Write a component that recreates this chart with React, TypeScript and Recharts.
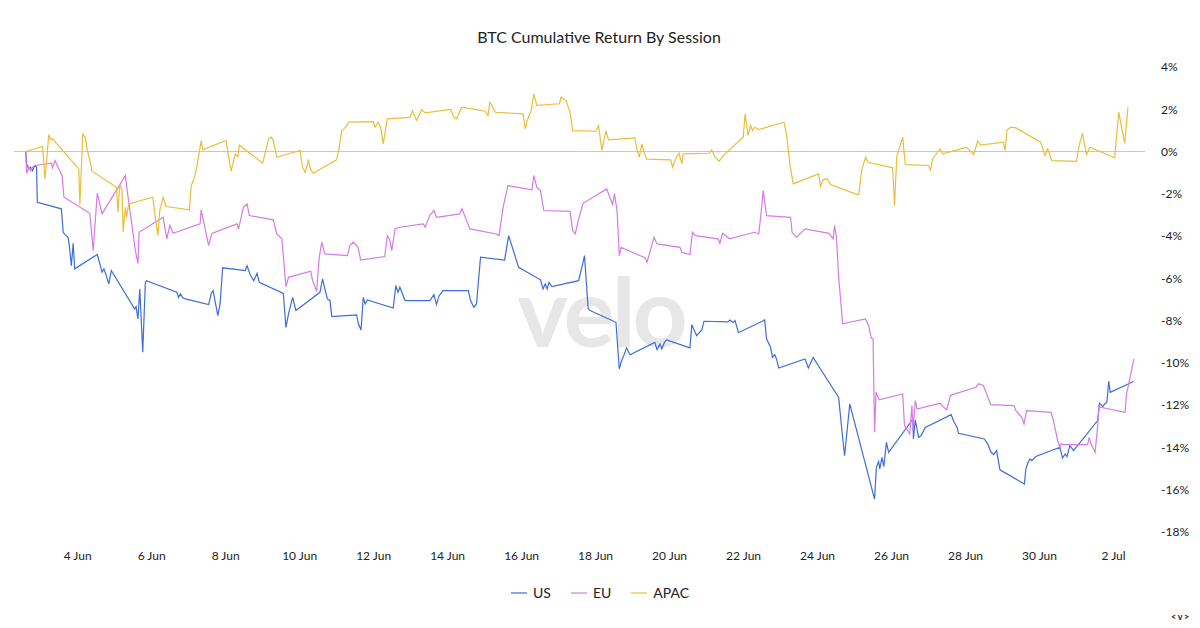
import React from 'react';
import { LineChart, Line, XAxis, YAxis, ReferenceLine } from 'recharts';

// [day of June (fractional, 32 = 2 Jul), cumulative return %]
type Pt = [number, number];

const usReturns: Pt[] = [
  [2.6, 0], [2.62, -0.58], [2.68, -0.82], [2.73, -0.74], [2.78, -0.9], [2.84, -0.66], [2.89, -0.74], [2.91, -2.4],
  [3.56, -2.71], [3.61, -3.82], [3.66, -3.93], [3.74, -4.06], [3.77, -4.37], [3.83, -5.4], [3.88, -4.34], [3.92, -5.55],
  [4.53, -4.87], [4.6, -5.31], [4.66, -5.71], [4.71, -5.55], [4.76, -5.79], [4.84, -6.26], [4.91, -5.63],
  [5.54, -7.44], [5.58, -7.34], [5.63, -7.92], [5.68, -6.5], [5.76, -9.5], [5.83, -6.19], [5.86, -6.11],
  [6.68, -6.66], [6.73, -6.9], [6.78, -6.73], [6.84, -6.92], [6.91, -6.97],
  [7.54, -7.24], [7.61, -6.73], [7.66, -6.58], [7.79, -7.76], [7.85, -7.21], [7.92, -5.5],
  [8.53, -5.63], [8.58, -5.4], [8.66, -5.82], [8.76, -6.11], [8.85, -5.76], [8.91, -6.19],
  [9.56, -6.71], [9.63, -8.32], [9.7, -7.68], [9.81, -6.9], [9.9, -7.52],
  [10.55, -6.66], [10.62, -6.02], [10.69, -6.55], [10.75, -6.97], [10.82, -7.05], [10.87, -7.81],
  [11.54, -7.73], [11.59, -8.15], [11.66, -8.44], [11.72, -6.9], [11.77, -7.21], [11.83, -7.02],
  [12.53, -7.4], [12.6, -6.34], [12.66, -6.66], [12.71, -6.42], [12.85, -7.05],
  [13.52, -7.05], [13.63, -6.77], [13.7, -7.24], [13.77, -6.82], [13.88, -6.58],
  [14.56, -6.58], [14.62, -7.05], [14.71, -7.37], [14.78, -7.21], [14.89, -5.0],
  [15.54, -5.13], [15.65, -3.98], [15.92, -5.48],
  [16.51, -6.07], [16.58, -6.5], [16.64, -6.26], [16.69, -6.5], [16.74, -6.19], [16.82, -6.39],
  [17.54, -6.11], [17.65, -5.31], [17.7, -4.92], [17.8, -7.44], [17.85, -7.52],
  [18.55, -8.08], [18.64, -10.28], [18.69, -9.97], [18.84, -9.29], [18.93, -9.61],
  [19.6, -9.03], [19.66, -9.37], [19.74, -9.1], [19.79, -9.34], [19.86, -9.03], [19.92, -8.91],
  [20.55, -9.29], [20.6, -8.19], [20.73, -8.71], [20.87, -8.44], [20.93, -8.03],
  [21.58, -8.06], [21.63, -7.97], [21.72, -8.09], [21.77, -8.0], [21.86, -8.57],
  [22.57, -7.97], [22.62, -8.86], [22.73, -9.26], [22.78, -9.74], [22.84, -9.61], [22.89, -9.81], [22.95, -10.24],
  [23.66, -9.81], [23.75, -10.24], [23.88, -9.74],
  [24.57, -11.63], [24.64, -12.89], [24.73, -14.39], [24.87, -11.94],
  [25.54, -16.44], [25.59, -14.94], [25.65, -14.67], [25.68, -15.02], [25.74, -14.47], [25.79, -14.91], [25.86, -13.76], [25.92, -14.23],
  [26.58, -12.65], [26.59, -13.6], [26.64, -12.7], [26.73, -13.52], [26.8, -13.44], [26.91, -13.05],
  [27.61, -12.45], [27.68, -12.76], [27.77, -13.05], [27.81, -13.33],
  [28.51, -13.6], [28.6, -13.84], [28.69, -14.23], [28.76, -14.34], [28.84, -14.15], [28.87, -14.47], [28.93, -15.06],
  [29.59, -15.73], [29.63, -15.02], [29.68, -14.75], [29.74, -14.54], [29.79, -14.62], [29.9, -14.43],
  [30.55, -13.99], [30.62, -14.5], [30.69, -14.31], [30.74, -14.43], [30.82, -13.91], [30.92, -14.15],
  [31.57, -12.73], [31.62, -11.91], [31.71, -12.07], [31.76, -11.94], [31.82, -11.86], [31.87, -10.87], [31.91, -11.39],
  [32.54, -10.88],
];

const euReturns: Pt[] = [
  [2.6, 0], [2.62, -1.03], [2.68, -0.74], [2.73, -0.9], [2.78, -0.74], [2.84, -0.66],
  [3.29, -0.55], [3.32, -0.77], [3.39, -0.43], [3.47, -0.74], [3.58, -1.14], [3.63, -2.16],
  [4.33, -2.92], [4.42, -4.69], [4.53, -1.97], [4.6, -2.48], [4.66, -2.95],
  [5.29, -1.14], [5.34, -1.85], [5.5, -3.9], [5.56, -4.69], [5.63, -5.29], [5.66, -3.82],
  [6.31, -3.11], [6.41, -4.13], [6.49, -3.5], [6.58, -3.87],
  [7.31, -3.42], [7.34, -2.76], [7.54, -4.45], [7.63, -3.87],
  [8.31, -3.42], [8.35, -3.66], [8.41, -3.19], [8.48, -2.64], [8.58, -2.48], [8.64, -3.03],
  [9.29, -3.23], [9.38, -3.9], [9.52, -4.13], [9.63, -6.39], [9.7, -5.95],
  [10.3, -5.66], [10.35, -6.1], [10.46, -6.61], [10.53, -5.0], [10.6, -4.29], [10.68, -4.84],
  [11.29, -4.92], [11.36, -4.45], [11.45, -4.29], [11.58, -4.53], [11.65, -5.13],
  [12.3, -4.97], [12.37, -3.98], [12.44, -4.21], [12.49, -4.69], [12.58, -3.66], [12.71, -3.58],
  [13.34, -3.42], [13.39, -3.58], [13.52, -3.03], [13.63, -2.79], [13.7, -3.11],
  [14.33, -2.95], [14.39, -2.71], [14.6, -3.66],
  [15.32, -3.9], [15.39, -3.98], [15.5, -2.64], [15.63, -1.61],
  [16.28, -1.81], [16.33, -1.14], [16.41, -1.69], [16.51, -1.85], [16.6, -2.79],
  [17.31, -2.83], [17.38, -3.74], [17.45, -3.9], [17.52, -3.35], [17.66, -2.45],
  [18.3, -1.77], [18.46, -2.51], [18.51, -2.0], [18.58, -2.79], [18.64, -4.92], [18.69, -4.53],
  [19.34, -5.03], [19.39, -5.24], [19.58, -4.06], [19.66, -4.37],
  [20.28, -4.53], [20.33, -4.77], [20.55, -4.87], [20.62, -3.82], [20.69, -3.98],
  [21.31, -4.13], [21.36, -4.34], [21.43, -3.87], [21.62, -4.13],
  [22.3, -3.82], [22.41, -3.9], [22.48, -2.79], [22.53, -1.85], [22.62, -3.03],
  [23.27, -3.11], [23.31, -3.82], [23.43, -4.06], [23.66, -3.66],
  [24.31, -3.87], [24.42, -4.13], [24.46, -3.5], [24.51, -4.06], [24.57, -5.95], [24.68, -8.15],
  [25.29, -7.92], [25.38, -8.23], [25.45, -8.82], [25.5, -8.86], [25.54, -13.28], [25.58, -11.39], [25.66, -11.75],
  [26.3, -11.47], [26.35, -12.97], [26.49, -13.36], [26.55, -12.02], [26.58, -13.2], [26.64, -11.78], [26.69, -12.18],
  [27.31, -11.91], [27.41, -12.1], [27.49, -12.22], [27.59, -11.55], [27.65, -11.5],
  [28.28, -11.15], [28.35, -10.99], [28.48, -11.07], [28.57, -11.47], [28.68, -11.97],
  [29.31, -12.02], [29.36, -12.26], [29.52, -12.57], [29.58, -12.89], [29.65, -12.26],
  [30.31, -12.34], [30.37, -12.7], [30.49, -13.68], [30.55, -13.99], [30.58, -13.83], [30.65, -13.87],
  [31.3, -13.87], [31.34, -13.52], [31.39, -13.83], [31.5, -14.23], [31.56, -13.2], [31.61, -12.02], [31.65, -12.1],
  [32.31, -12.34], [32.35, -11.47], [32.41, -10.99], [32.55, -9.81],
];

const apacReturns: Pt[] = [
  [2.6, 0], [3.05, 0.24], [3.12, -1.29], [3.22, 0.8], [3.27, 0.55], [3.32, 0.6],
  [4.03, -0.82], [4.06, -2.51], [4.14, 0.84], [4.21, 0.65], [4.26, 0.08], [4.33, -0.43], [4.39, -0.93],
  [5.05, -1.69], [5.09, -2.87], [5.14, -1.53], [5.2, -1.85], [5.23, -3.82], [5.29, -2.64], [5.32, -3.11], [5.38, -2.48],
  [6.03, -2.16], [6.1, -3.11], [6.17, -3.98], [6.22, -2.79], [6.31, -2.16], [6.39, -2.6],
  [7.02, -2.76], [7.07, -1.61], [7.16, -1.22], [7.22, -0.74], [7.34, 0.52], [7.38, 0.08],
  [8.01, 0.52], [8.08, -0.24], [8.15, -0.93], [8.26, -0.11], [8.33, -0.24], [8.37, 0.3],
  [9.0, -0.55], [9.16, 0.6], [9.23, 0.68], [9.29, 0.52], [9.38, -0.27],
  [10.01, 0.05], [10.08, -0.74], [10.15, -0.98], [10.24, -0.43], [10.3, -0.87], [10.37, -1.03],
  [11.0, -0.39], [11.07, 0.2], [11.14, 0.99], [11.2, 1.07], [11.34, 1.39],
  [11.99, 1.42], [12.04, 1.15], [12.12, 1.39], [12.19, 1.15], [12.26, 0.36], [12.37, 1.55],
  [12.98, 1.62], [13.05, 1.94], [13.16, 1.47], [13.3, 1.99], [13.39, 1.83],
  [14.08, 1.99], [14.17, 1.62], [14.24, 1.55], [14.38, 2.1],
  [15.01, 1.91], [15.09, 1.7], [15.14, 2.33], [15.2, 2.18], [15.29, 1.86],
  [16.04, 1.78], [16.1, 1.07], [16.15, 1.47], [16.26, 1.94], [16.33, 2.73], [16.41, 2.18],
  [17.02, 2.26], [17.07, 2.57], [17.2, 2.41], [17.31, 1.86], [17.38, 0.99],
  [18.01, 0.96], [18.08, 1.23], [18.17, 0.05], [18.28, 0.99], [18.35, 0.55],
  [19.06, 0.65], [19.12, 0.08], [19.18, -0.27], [19.25, 0.36], [19.31, -0.03], [19.38, -0.36],
  [20.03, -0.39], [20.08, -0.74], [20.19, -0.24], [20.26, -0.08], [20.33, -0.58], [20.37, -0.11],
  [21.07, -0.08], [21.14, 0.08], [21.23, -0.27], [21.34, -0.46], [21.45, -0.19],
  [21.99, 0.68], [22.04, 1.78], [22.12, 0.76], [22.19, 1.23], [22.24, 0.99], [22.3, 1.15], [22.41, 1.04],
  [23.09, 1.39], [23.16, 0.84], [23.25, -0.58], [23.34, -1.53],
  [24.03, -1.06], [24.08, -1.66], [24.15, -1.34], [24.26, -1.29], [24.35, -1.56],
  [25.02, -2.0], [25.11, -2.04], [25.2, -0.82], [25.3, -0.27], [25.36, -0.51],
  [26.03, -0.77], [26.08, -2.56], [26.14, -0.24], [26.3, 0.68], [26.37, -0.62],
  [27.0, -0.66], [27.05, -0.87], [27.11, -0.35], [27.31, 0.13], [27.38, -0.11],
  [28.03, 0.2], [28.22, -0.14], [28.33, 0.49], [28.41, 0.3],
  [29.02, 0.44], [29.07, 0.05], [29.12, 1.03], [29.23, 1.15], [29.36, 1.12],
  [30.03, 0.44], [30.15, -0.19], [30.22, 0.13], [30.33, -0.43],
  [31.0, -0.46], [31.07, 0.28], [31.16, 0.87], [31.27, -0.14], [31.36, 0.2],
  [31.99, -0.27], [32.03, -0.3], [32.14, 1.86], [32.3, 0.39], [32.39, 2.1],
];

const dayTicks = [4, 6, 8, 10, 12, 14, 16, 18, 20, 22, 24, 26, 28, 30, 32];
const pctTicks = [4, 2, 0, -2, -4, -6, -8, -10, -12, -14, -16, -18];

const series = [
  { name: 'US', color: '#3e6cd8', points: usReturns },
  { name: 'EU', color: '#d67ae6', points: euReturns },
  { name: 'APAC', color: '#ebbd3a', points: apacReturns },
];

const W = 1200;
const H = 628;
const FONT = 'Lato, "Noto Sans", sans-serif';
const TEXT = '#222222';

const dayLabel = (d: number) => (d <= 30 ? `${d} Jun` : `${d - 30} Jul`);

export default function App() {
  return (
    <div style={{ position: 'absolute', left: 0, top: 0, width: W, height: H, background: '#ffffff', fontFamily: FONT, overflow: 'hidden' }}>
      <svg width={W} height={H} style={{ position: 'absolute', left: 0, top: 0 }}>
        <text x={599} y={43} textAnchor="middle" fontSize={16} fill={TEXT} fontFamily={FONT}>
          BTC Cumulative Return By Session
        </text>
        <text
          x={601}
          y={347}
          textAnchor="middle"
          fontSize={96}
          fontWeight={700}
          letterSpacing={-3}
          fill="#e7e7e7"
          fontFamily={FONT}
        >
          velo
        </text>
        <text x={1171} y={620} textAnchor="start" fontSize={9} fontWeight={700} letterSpacing={1.5} fill={TEXT} fontFamily={FONT}>
          {'<v>'}
        </text>
      </svg>
      <div style={{ position: 'absolute', left: 0, top: 0 }}>
        <LineChart width={W} height={H} margin={{ top: 67, right: 0, bottom: 66, left: 14 }}>
          <XAxis
            type="number"
            dataKey="day"
            domain={[2.28, 32.85]}
            ticks={dayTicks}
            interval={0}
            tickFormatter={dayLabel}
            axisLine={false}
            tickLine={false}
            tickSize={0}
            tickMargin={19}
            height={30}
            allowDataOverflow
            tick={{ fill: TEXT, fontSize: 12, fontFamily: FONT }}
          />
          <YAxis
            type="number"
            orientation="right"
            domain={[-18, 4]}
            ticks={pctTicks}
            interval={0}
            tickFormatter={(v: number) => `${v}%`}
            axisLine={false}
            tickLine={false}
            tickSize={0}
            tickMargin={16}
            width={55}
            tick={{ fill: TEXT, fontSize: 12, fontFamily: FONT }}
          />
          <ReferenceLine y={0} stroke="#c6c6c6" strokeWidth={1} />
          {series.map((s) => (
            <Line
              key={s.name}
              name={s.name}
              data={s.points.map(([day, value]) => ({ day, value }))}
              dataKey="value"
              type="linear"
              stroke={s.color}
              strokeWidth={1.2}
              dot={false}
              activeDot={false}
              isAnimationActive={false}
            />
          ))}
        </LineChart>
      </div>
      <div
        style={{
          position: 'absolute',
          left: 0,
          top: 583,
          width: W,
          display: 'flex',
          justifyContent: 'center',
          gap: 20,
          fontSize: 14,
          color: TEXT,
          lineHeight: '20px',
        }}
      >
        {series.map((s) => (
          <div key={s.name} style={{ display: 'flex', alignItems: 'center' }}>
            <span style={{ display: 'inline-block', width: 16, height: 1.5, background: s.color, opacity: 0.6, marginRight: 6 }} />
            <span>{s.name}</span>
          </div>
        ))}
      </div>
    </div>
  );
}
